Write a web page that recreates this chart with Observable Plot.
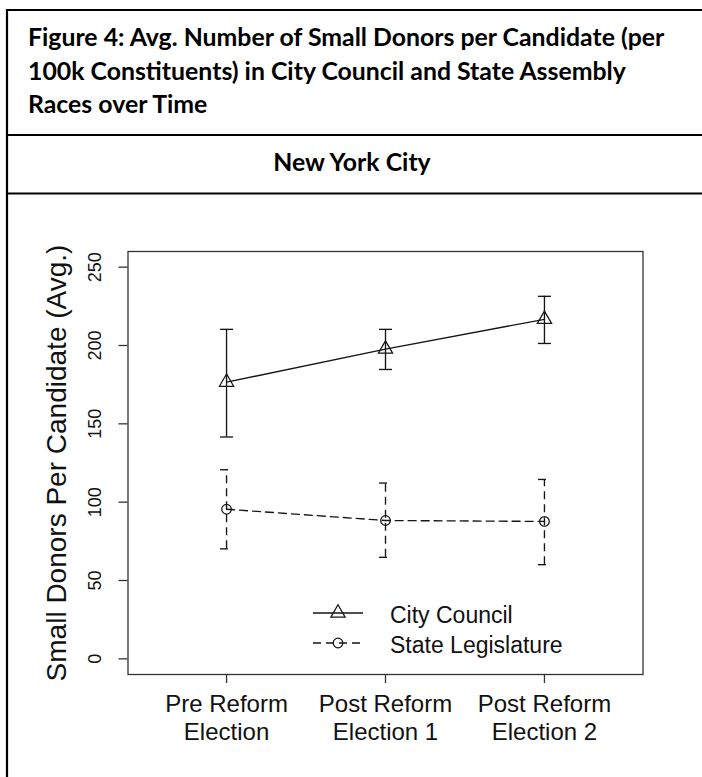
<!DOCTYPE html>
<html>
<head>
<meta charset="utf-8">
<script src="https://cdn.jsdelivr.net/npm/d3@7"></script>
<script src="https://cdn.jsdelivr.net/npm/@observablehq/plot@0.6"></script>
<style>
  html, body { margin: 0; padding: 0; background: #fff; }
  #page { position: relative; width: 702px; height: 777px; overflow: hidden; background: #fff; }
  #chart { position: absolute; left: 0; top: 194px; }
  #overlay { position: absolute; left: 0; top: 0; pointer-events: none; }
</style>
</head>
<body>
<div id="page">
  <div id="chart"></div>
  <svg id="overlay" width="702" height="777"></svg>
</div>
<script>
// ---------- data ----------
const titleLines = [
  "Figure 4: Avg. Number of Small Donors per Candidate (per",
  "100k Constituents) in City Council and State Assembly",
  "Races over Time"
];
const panelTitle = "New York City";
const categories = ["Pre Reform\nElection", "Post Reform\nElection 1", "Post Reform\nElection 2"];
const seriesNames = ["City Council", "State Legislature"];
const cityCouncilMean = [176.6, 197.7, 216.7];
const cityCouncilLow  = [141.6, 184.7, 201.3];
const cityCouncilHigh = [210.3, 210.3, 231.4];
const stateLegMean = [95.5, 88.3, 87.7];
const stateLegLow  = [70.2, 64.8, 60.1];
const stateLegHigh = [120.7, 112.2, 114.5];
const yTicks = [0, 50, 100, 150, 200, 250];
const yLabel = "Small Donors Per Candidate (Avg.)";

// ---------- build rows ----------
function rowsFor(name, mean, low, high) {
  return categories.map((c, i) => ({ series: name, x: i + 1, mean: mean[i], low: low[i], high: high[i] }));
}
const ccRows = rowsFor(seriesNames[0], cityCouncilMean, cityCouncilLow, cityCouncilHigh);
const slRows = rowsFor(seriesNames[1], stateLegMean, stateLegLow, stateLegHigh);

const ink = "#151515";
const dash = "8,5";
const capSymbol = { draw(context, size) { const w = Math.sqrt(size / Math.PI); context.moveTo(-w, 0); context.lineTo(w, 0); } };
const axisFont = "'Liberation Sans', Arial, Helvetica, sans-serif";

function seriesMarks(rows, symbol, r, dasharray) {
  const common = { stroke: ink, strokeWidth: 1.35, strokeDasharray: dasharray };
  return [
    Plot.ruleX(rows, { x: "x", y1: "low", y2: "high", ...common }),
    Plot.dot(rows, { x: "x", y: "low", symbol: capSymbol, r: 6.5, fill: "none", ...common }),
    Plot.dot(rows, { x: "x", y: "high", symbol: capSymbol, r: 6.5, fill: "none", ...common }),
    Plot.line(rows, { x: "x", y: "mean", ...common }),
    Plot.dot(rows, { x: "x", y: "mean", symbol, r, fill: "none", stroke: ink, strokeWidth: 1.25 })
  ];
}

const chart = Plot.plot({
  width: 702,
  height: 583,
  marginLeft: 127.5,
  marginRight: 59.5,
  marginTop: 57,
  marginBottom: 103,
  x: { domain: [0.38, 3.62] },
  y: { domain: [-10, 260] },
  style: { fontFamily: axisFont, color: "#111", background: "transparent", overflow: "visible" },
  marks: [
    Plot.frame({ stroke: "#333", strokeWidth: 1.3 }),
    Plot.axisY({ ticks: yTicks, tickSize: 9, tickFormat: () => "", label: null, stroke: "#333", strokeWidth: 1.3 }),
    Plot.text(yTicks, { y: d => d, text: d => String(d), frameAnchor: "left", dx: -27, rotate: -90,
      textAnchor: "middle", lineAnchor: "bottom", fontSize: 18, fill: "#111" }),
    Plot.text([yLabel], { text: d => d, frameAnchor: "left", dx: -62, rotate: -90,
      textAnchor: "middle", lineAnchor: "bottom", fontSize: 28, fill: "#111" }),
    Plot.axisX({ ticks: [1, 2, 3], tickFormat: i => categories[i - 1], tickSize: 9, tickPadding: 9,
      fontSize: 24, lineHeight: 28 / 24, label: null, stroke: "#333", strokeWidth: 1.3, fill: "#111" }),
    ...seriesMarks(slRows, "circle", 4.8, dash),
    ...seriesMarks(ccRows, "triangle", 5.3, null)
  ]
});
document.getElementById("chart").appendChild(chart);

// ---------- header, borders and legend ----------
const svg = d3.select("#overlay");
const border = "#000";
svg.append("line").attr("x1", 6).attr("x2", 702).attr("y1", 10).attr("y2", 10).attr("stroke", border).attr("stroke-width", 2.2);
svg.append("line").attr("x1", 6).attr("x2", 702).attr("y1", 135).attr("y2", 135).attr("stroke", border).attr("stroke-width", 2.2);
svg.append("line").attr("x1", 6).attr("x2", 702).attr("y1", 193.5).attr("y2", 193.5).attr("stroke", border).attr("stroke-width", 2.2);
svg.append("line").attr("x1", 7).attr("x2", 7).attr("y1", 9).attr("y2", 777).attr("stroke", border).attr("stroke-width", 2.2);

const titleFont = "Lato, 'Open Sans', sans-serif";
const ctx = document.createElement("canvas").getContext("2d");
ctx.font = "bold 20px Lato";
const natural = ctx.measureText(titleLines[0]).width;
const titleSize = Math.max(16, Math.min(26, 20 * 639 / natural));
const baselines = [46, 79.5, 113];
titleLines.forEach((t, i) => {
  svg.append("text").attr("x", 28).attr("y", baselines[i]).text(t)
    .attr("font-family", titleFont).attr("font-weight", 700).attr("font-size", titleSize).attr("fill", "#000");
});
svg.append("text").attr("x", 352).attr("y", 171).attr("text-anchor", "middle").text(panelTitle)
  .attr("font-family", titleFont).attr("font-weight", 700).attr("font-size", titleSize).attr("fill", "#000");

// legend
const legendRows = [
  { name: seriesNames[0], y: 613, symbol: d3.symbolTriangle, r: 5.3, dash: null },
  { name: seriesNames[1], y: 643, symbol: d3.symbolCircle, r: 4.8, dash: dash }
];
legendRows.forEach(row => {
  svg.append("line").attr("x1", 313).attr("x2", 363).attr("y1", row.y).attr("y2", row.y)
    .attr("stroke", ink).attr("stroke-width", 1.3).attr("stroke-dasharray", row.dash);
  svg.append("path").attr("d", d3.symbol(row.symbol, row.r * row.r * Math.PI)())
    .attr("transform", `translate(338,${row.y})`).attr("fill", "none").attr("stroke", ink).attr("stroke-width", 1.25);
  svg.append("text").attr("x", 390).attr("y", row.y + 10).text(row.name)
    .attr("font-family", axisFont).attr("font-size", 23).attr("fill", "#111");
});
</script>
</body>
</html>
